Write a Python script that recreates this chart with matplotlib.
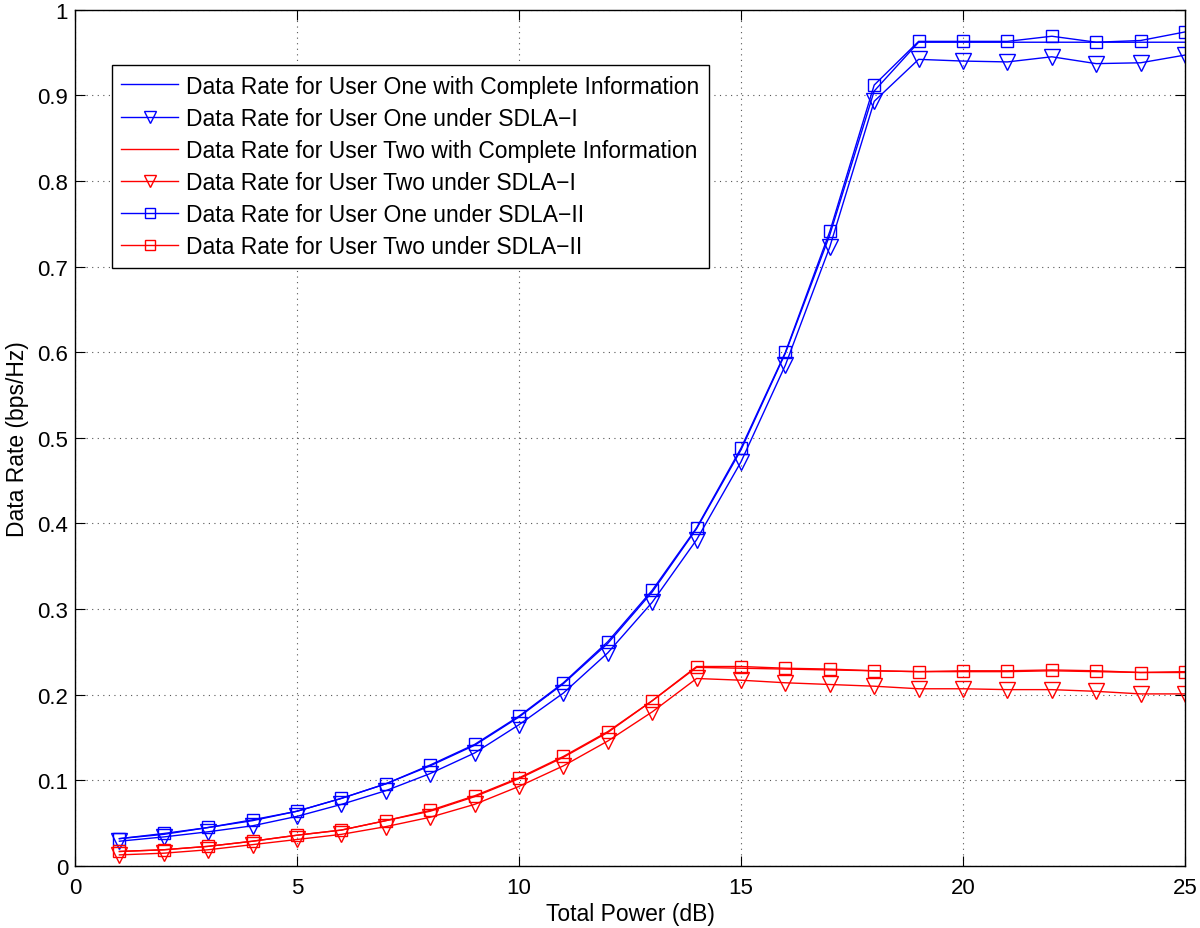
import matplotlib

matplotlib.use("Agg")
import matplotlib.pyplot as plt
import numpy as np

plt.rcParams["font.family"] = ["Liberation Sans", "DejaVu Sans"]
plt.rcParams["font.size"] = 16

# ============================================================
# Data
# ============================================================
power_db = np.arange(1, 26)

u1_complete = [0.032, 0.037, 0.045, 0.053, 0.064, 0.079, 0.096, 0.117, 0.141, 0.174,
               0.213, 0.260, 0.320, 0.394, 0.486, 0.599, 0.737, 0.905, 0.962, 0.962,
               0.962, 0.962, 0.962, 0.962, 0.962]
u1_sdla1 = [0.029, 0.034, 0.040, 0.047, 0.058, 0.072, 0.088, 0.108, 0.132, 0.165,
            0.202, 0.249, 0.308, 0.381, 0.472, 0.585, 0.723, 0.893, 0.942, 0.940,
            0.939, 0.945, 0.937, 0.938, 0.947]
u2_complete = [0.017, 0.019, 0.023, 0.029, 0.036, 0.042, 0.053, 0.064, 0.081, 0.102,
               0.127, 0.156, 0.193, 0.232, 0.231, 0.230, 0.229, 0.228, 0.227, 0.227,
               0.227, 0.228, 0.227, 0.226, 0.226]
u2_sdla1 = [0.013, 0.015, 0.019, 0.025, 0.031, 0.037, 0.046, 0.057, 0.072, 0.093,
            0.117, 0.146, 0.180, 0.219, 0.217, 0.214, 0.212, 0.210, 0.207, 0.207,
            0.206, 0.206, 0.204, 0.201, 0.201]
u1_sdla2 = [0.032, 0.038, 0.045, 0.054, 0.064, 0.079, 0.096, 0.118, 0.142, 0.175,
            0.214, 0.262, 0.322, 0.395, 0.488, 0.600, 0.741, 0.912, 0.963, 0.963,
            0.963, 0.969, 0.962, 0.964, 0.974]
u2_sdla2 = [0.017, 0.019, 0.023, 0.029, 0.036, 0.042, 0.053, 0.065, 0.082, 0.103,
            0.128, 0.157, 0.193, 0.233, 0.233, 0.231, 0.230, 0.228, 0.227, 0.228,
            0.228, 0.229, 0.228, 0.226, 0.227]

blue = "#0000FF"
red = "#FF0000"

fig, ax = plt.subplots(figsize=(12, 9.29), dpi=100)
fig.subplots_adjust(left=0.0625, right=0.9875, top=0.9885, bottom=0.0667)

ax.plot(power_db, u1_complete, color=blue, linewidth=1.0,
        label="Data Rate for User One with Complete Information")
ax.plot(power_db, u1_sdla1, color=blue, linewidth=1.0, marker="v", markersize=12,
        markerfacecolor="none", markeredgewidth=1.0,
        label="Data Rate for User One under SDLA\u2212I")
ax.plot(power_db, u2_complete, color=red, linewidth=1.0,
        label="Data Rate for User Two with Complete Information")
ax.plot(power_db, u2_sdla1, color=red, linewidth=1.0, marker="v", markersize=12,
        markerfacecolor="none", markeredgewidth=1.0,
        label="Data Rate for User Two under SDLA\u2212I")
ax.plot(power_db, u1_sdla2, color=blue, linewidth=1.0, marker="s", markersize=9,
        markerfacecolor="none", markeredgewidth=1.0,
        label="Data Rate for User One under SDLA\u2212II")
ax.plot(power_db, u2_sdla2, color=red, linewidth=1.0, marker="s", markersize=9,
        markerfacecolor="none", markeredgewidth=1.0,
        label="Data Rate for User Two under SDLA\u2212II")

ax.set_xlim(0, 25)
ax.set_ylim(0, 1)
ax.set_xticks(np.arange(0, 26, 5))
ax.set_yticks(np.arange(0, 1.01, 0.1))
ax.set_yticklabels(["0"] + [f"{v:.1f}" for v in np.arange(0.1, 1.0, 0.1)] + ["1"])
ax.tick_params(direction="in", top=True, right=True, length=7, labelsize=16)
ax.tick_params(axis="x", pad=8)
ax.tick_params(axis="y", pad=5)
ax.grid(True, linestyle=(0, (1, 4)), color="#555555", linewidth=0.8)
for s in ax.spines.values():
    s.set_linewidth(1.0)

ax.set_xlabel("Total Power (dB)", fontsize=16.5, labelpad=3)
ax.set_ylabel("Data Rate (bps/Hz)", fontsize=16.5, labelpad=6)

leg = ax.legend(loc="upper left", bbox_to_anchor=(0.0333, 0.935), fontsize=16.5,
                handlelength=2.5, handletextpad=0.35, labelspacing=0.4,
                borderpad=0.4, borderaxespad=0.0, markerscale=0.75,
                fancybox=False, framealpha=1.0, edgecolor="black")
leg.get_frame().set_linewidth(1.0)

fig.savefig("out.png", dpi=100)
